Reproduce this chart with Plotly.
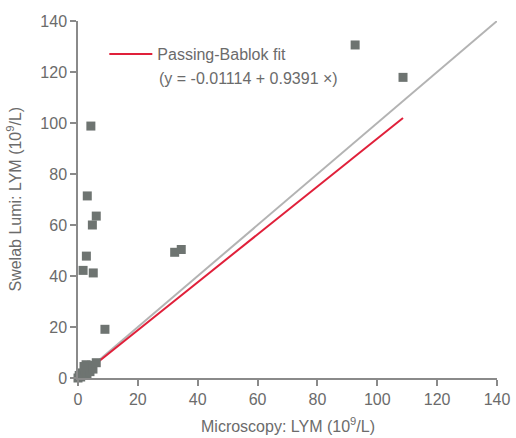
import plotly.graph_objects as go

# Data
microscopy = [0.0, 0.4, 0.9, 1.3, 1.8, 2.2, 2.7, 3.0, 3.5, 4.0, 4.5, 5.0, 6.1, 2.0,
              1.7, 2.8, 5.1, 4.8, 6.1, 3.1, 4.3, 9.0, 32.3, 34.5, 92.6, 108.6]
swelab = [0.0, 1.0, 0.4, 2.0, 1.0, 3.0, 5.2, 1.5, 3.5, 2.5, 5.0, 3.5, 6.0, 4.5,
          42.2, 47.8, 41.2, 60.0, 63.5, 71.4, 98.8, 19.1, 49.3, 50.4, 130.6, 117.9]

intercept = -0.01114
slope = 0.9391
fit_x = [0, max(microscopy)]
fit_y = [intercept + slope * v for v in fit_x]
identity = [0, 140]

x_ticks = [0, 20, 40, 60, 80, 100, 120, 140]
y_ticks = [0, 20, 40, 60, 80, 100, 120, 140]

font_fam = "Liberation Sans, Arial, sans-serif"
txt = "#6b6b6b"

fig = go.Figure()
fig.add_trace(go.Scatter(x=identity, y=identity, mode="lines",
                         line=dict(color="#b3b3b3", width=2), showlegend=False,
                         hoverinfo="skip"))
fig.add_trace(go.Scatter(x=fit_x, y=fit_y, mode="lines",
                         line=dict(color="#e0203a", width=2),
                         name="Passing-Bablok fit"))
fig.add_trace(go.Scatter(x=microscopy, y=swelab, mode="markers",
                         marker=dict(symbol="square", size=9, color="#6e7471",
                                     line=dict(width=0)),
                         showlegend=False, cliponaxis=False))

axis_common = dict(showgrid=False, zeroline=False, showline=True,
                   linecolor="#8a8a8a", linewidth=1.5, ticks="outside",
                   ticklen=6, tickcolor="#8a8a8a", tickwidth=1.5,
                   tickfont=dict(family=font_fam, size=16, color=txt),
                   range=[0, 140], automargin=False)

fig.update_xaxes(**axis_common, tickvals=x_ticks)
fig.update_yaxes(**axis_common, tickvals=y_ticks)

title_font = dict(family=font_fam, size=16, color=txt)
fig.add_annotation(text="Microscopy: LYM (10<sup>9</sup>/L)", xref="paper", yref="paper",
                   x=0.5, y=0, xanchor="center", yanchor="middle", yshift=-47,
                   showarrow=False, font=title_font)
fig.add_annotation(text="Swelab Lumi: LYM (10<sup>9</sup>/L)", xref="paper", yref="paper",
                   x=0, y=0.5, xanchor="center", yanchor="middle", xshift=-64,
                   textangle=-90, showarrow=False, font=title_font)
fig.add_annotation(text="(y = -0.01114 + 0.9391 ×)", xref="paper", yref="paper",
                   x=0.1885, y=0.84, xanchor="left", yanchor="middle",
                   showarrow=False, font=title_font)

fig.update_layout(
    width=516, height=438,
    margin=dict(l=78, r=19, t=21, b=60),
    plot_bgcolor="white", paper_bgcolor="white",
    legend=dict(x=0.0628, y=0.955, xanchor="left", yanchor="top",
                bgcolor="rgba(0,0,0,0)", itemwidth=43,
                font=dict(family=font_fam, size=16, color=txt)),
)

fig.write_html("out.html", config={"displayModeBar": False},
               post_script="document.body.style.margin='0px';")
